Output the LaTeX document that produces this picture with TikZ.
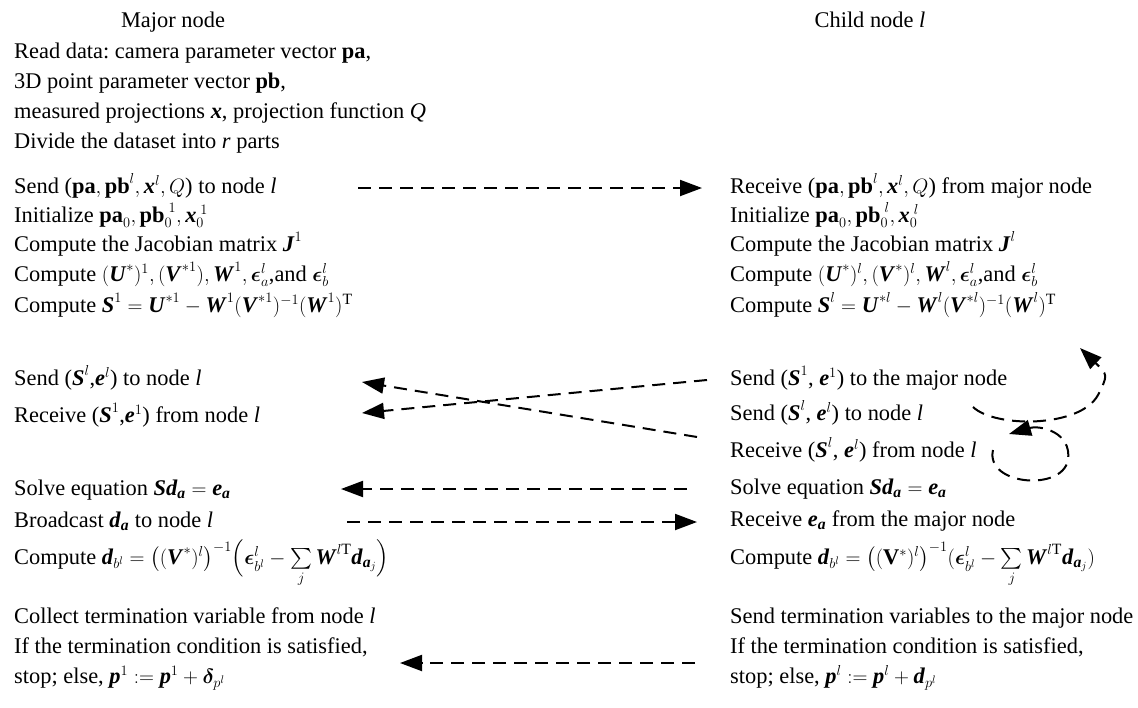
\documentclass[tikz,border=0pt]{standalone}
\usepackage{fontspec}
\usepackage{amsmath}
\usepackage{bm}
\setmainfont{Liberation Serif}
\usetikzlibrary{arrows.meta}
\newcommand{\bi}[1]{\textbf{\textit{#1}}}
\frenchspacing

\begin{document}
\begin{tikzpicture}[x=1pt, y=-1pt,
    txt/.style={anchor=base west, inner sep=0pt, text height=15pt, text depth=5pt,
                font=\fontsize{22.4}{27}\selectfont},
    head/.style={txt, anchor=base},
    msg/.style={line width=2pt, dash pattern=on 13pt off 8pt,
                -{Triangle[length=22pt,width=16pt]}}]
  \useasboundingbox (0,0) rectangle (1138,707);
  \node[head] (major) at (173,27) {Major node};
  \node[head] (child) at (870,27) {Child node \textit{l}};
  % major node column
  \node[txt] (read) at (14,58) {Read data: camera parameter vector \textbf{pa},};
  \node[txt] (ptvec) at (14,88) {3D point parameter vector \textbf{pb},};
  \node[txt] (meas) at (14,118) {measured projections \bi{x}, projection function \textit{Q}};
  \node[txt] (divide) at (14,148) {Divide the dataset into \textit{r} parts};
  \node[txt] (sendL) at (14,193) {Send ($\textbf{pa},\textbf{pb}^{l},\bi{x}^{l},Q$) to node \textit{l}};
  \node[txt] (initL) at (14,222) {Initialize $\textbf{pa}_0,\textbf{pb}_0^{\;1},\bi{x}_0^{\;1}$};
  \node[txt] (jacL) at (14,251) {Compute the Jacobian matrix $\bi{J}^{1}$};
  \node[txt] (compUL) at (14,281) {Compute $(\bi{U}^{*})^{1},(\bi{V}^{*1}),\bi{W}^{1},\bm{\epsilon}_a^{l}$,and $\bm{\epsilon}_b^{l}$};
  \node[txt] (compSL) at (14,312) {Compute $\bi{S}^{1}=\bi{U}^{*1}-\bi{W}^{1}(\bi{V}^{*1})^{-1}(\bi{W}^{1})^{\mathrm{T}}$};
  \node[txt] (sendSL) at (14,385) {Send ($\bi{S}^{l}$,$\bi{e}^{l}$) to node \textit{l}};
  \node[txt] (recvSL) at (14,422) {Receive ($\bi{S}^{1}$,$\bi{e}^{1}$) from node \textit{l}};
  \node[txt] (solveL) at (14,495) {Solve equation $\bi{Sd}_{\bi{a}}=\bi{e}_{\bi{a}}$};
  \node[txt] (bcastL) at (14,527) {Broadcast $\bi{d}_{\bi{a}}$ to node \textit{l}};
  \node[txt] (compdL) at (14,564) {Compute $\bi{d}_{b^{l}}=\bigl((\bi{V}^{*})^{l}\bigr)^{-1}\Bigl(\bm{\epsilon}_{b^{l}}^{l}-\sum\limits_{j}\bi{W}^{l\mathrm{T}}\bi{d}_{\bi{a}_j}\Bigr)$};
  \node[txt] (collectL) at (14,623) {Collect termination variable from node \textit{l}};
  \node[txt] (ifL) at (14,653) {If the termination condition is satisfied,};
  \node[txt] (stopL) at (14,683) {stop; else, $\bi{p}^{1}:=\bi{p}^{1}+\bm{\delta}_{p^{l}}$};
  % child node column
  \node[txt] (recvR) at (730,193) {Receive ($\textbf{pa},\textbf{pb}^{l},\bi{x}^{l},Q$) from major node};
  \node[txt] (initR) at (730,222) {Initialize $\textbf{pa}_0,\textbf{pb}_0^{\;l},\bi{x}_0^{\;l}$};
  \node[txt] (jacR) at (730,251) {Compute the Jacobian matrix $\bi{J}^{l}$};
  \node[txt] (compUR) at (730,281) {Compute $(\bi{U}^{*})^{l},(\bi{V}^{*})^{l},\bi{W}^{l},\bm{\epsilon}_a^{l}$,and $\bm{\epsilon}_b^{l}$};
  \node[txt] (compSR) at (730,312) {Compute $\bi{S}^{l}=\bi{U}^{*l}-\bi{W}^{l}(\bi{V}^{*l})^{-1}(\bi{W}^{l})^{\mathrm{T}}$};
  \node[txt] (sendSmR) at (730,385) {Send ($\bi{S}^{1}$, $\bi{e}^{1}$) to the major node};
  \node[txt] (sendSlR) at (730,420) {Send ($\bi{S}^{l}$, $\bi{e}^{l}$) to node \textit{l}};
  \node[txt] (recvSR) at (730,457) {Receive ($\bi{S}^{l}$, $\bi{e}^{l}$) from node \textit{l}};
  \node[txt] (solveR) at (730,494) {Solve equation $\bi{Sd}_{\bi{a}}=\bi{e}_{\bi{a}}$};
  \node[txt] (recveR) at (730,526) {Receive $\bi{e}_{\bi{a}}$ from the major node};
  \node[txt] (compdR) at (730,564) {Compute $\bi{d}_{b^{l}}=\bigl((\mathbf{V}^{*})^{l}\bigr)^{-1}(\bm{\epsilon}_{b^{l}}^{l}-\sum\limits_{j}\bi{W}^{l\mathrm{T}}\bi{d}_{\bi{a}_j})$};
  \node[txt] (sendtR) at (730,623) {Send termination variables to the major node};
  \node[txt] (ifR) at (730,653) {If the termination condition is satisfied,};
  \node[txt] (stopR) at (730,683) {stop; else, $\bi{p}^{l}:=\bi{p}^{l}+\bi{d}_{p^{l}}$};
  % message ends
  \coordinate (sendA) at (358,188);   \coordinate (sendB) at (702,188);
  \coordinate (crossA) at (697,437);  \coordinate (crossB) at (362,382);
  \coordinate (crossC) at (707,380);  \coordinate (crossD) at (362,413);
  \coordinate (solveA) at (687,489);  \coordinate (solveB) at (341,489);
  \coordinate (bcastA) at (347,522);  \coordinate (bcastB) at (697,522);
  \coordinate (termA) at (695,663);   \coordinate (termB) at (400,663);
  \coordinate (loopA) at (973,407);   \coordinate (loopB) at (1080,348);
  \coordinate (selfA) at (993,450);   \coordinate (selfB) at (1009,434);
  \draw[msg] (sendA) -- (sendB);
  \draw[msg] (crossA) -- (crossB);
  \draw[msg] (crossC) -- (crossD);
  \draw[msg] (solveA) -- (solveB);
  \draw[msg] (bcastA) -- (bcastB);
  \draw[msg] (termA) -- (termB);
  \draw[msg] (loopA) .. controls (995,428) and (1080,428) .. (1098,395)
    .. controls (1108,375) .. (loopB);
  \draw[msg] (selfA) .. controls (985,485) and (1062,492) .. (1068,460)
    .. controls (1072,432) and (1040,425) .. (selfB);
\end{tikzpicture}
\end{document}
